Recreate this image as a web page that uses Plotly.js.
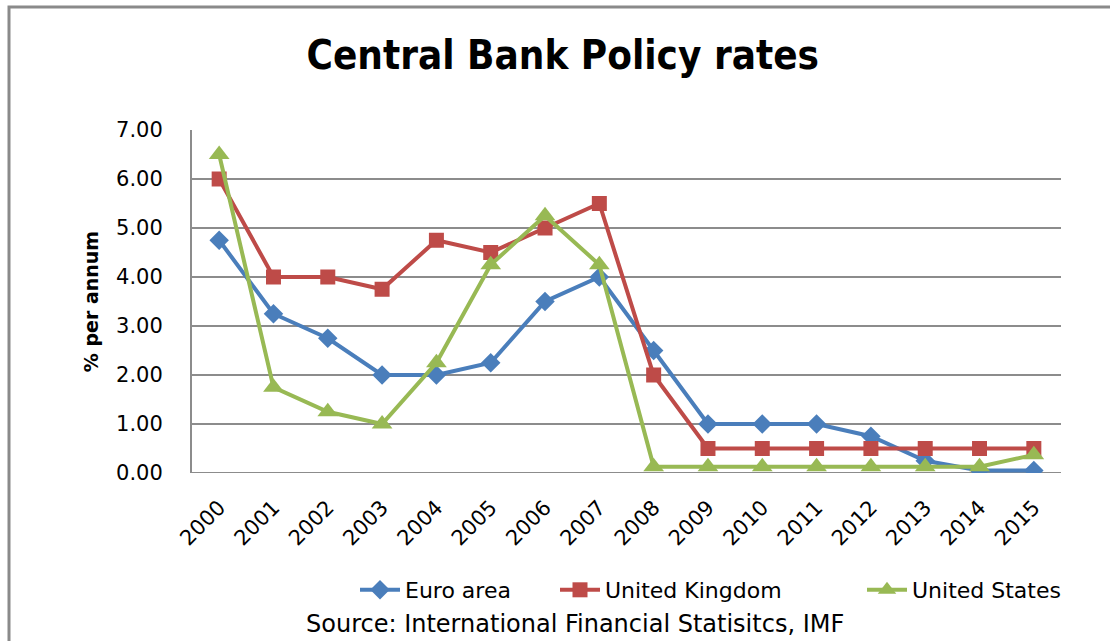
<!DOCTYPE html>
<html>
<head>
<meta charset="utf-8">
<script src="https://cdn.plot.ly/plotly-3.0.1.min.js"></script>
<style>
html,body{margin:0;padding:0;background:#fff;}
#chart{width:1110px;height:641px;}
</style>
</head>
<body>
<div id="chart"></div>
<script>
const years = ["2000","2001","2002","2003","2004","2005","2006","2007","2008","2009","2010","2011","2012","2013","2014","2015"];
const euroArea = [4.75,3.25,2.75,2.00,2.00,2.25,3.50,4.00,2.50,1.00,1.00,1.00,0.75,0.25,0.05,0.05];
const unitedKingdom = [6.00,4.00,4.00,3.75,4.75,4.50,5.00,5.50,2.00,0.50,0.50,0.50,0.50,0.50,0.50,0.50];
const unitedStates = [6.50,1.75,1.25,1.00,2.25,4.25,5.25,4.25,0.13,0.13,0.13,0.13,0.13,0.13,0.13,0.37];
const yTicks = [0,1,2,3,4,5,6,7];
const yTickText = ["0.00","1.00","2.00","3.00","4.00","5.00","6.00","7.00"];

const L = 192, R = 49, T = 130, B = 168;
const W = 1110, H = 641;
const pw = W - L - R, ph = H - T - B;
const px = v => (v - L) / pw;
const py = v => (H - B - v) / ph;

const traces = [
  {x: years, y: euroArea, name: "Euro area", type: "scatter", mode: "lines+markers", legend: "legend",
   line: {color: "#4A7EBB", width: 4}, marker: {symbol: "diamond", size: 15, color: "#4A7EBB"}},
  {x: years, y: unitedKingdom, name: "United Kingdom", type: "scatter", mode: "lines+markers", legend: "legend2",
   line: {color: "#BE4B48", width: 4}, marker: {symbol: "square", size: 15, color: "#BE4B48"}},
  {x: years, y: unitedStates, name: "United States", type: "scatter", mode: "lines+markers", legend: "legend3",
   line: {color: "#98B954", width: 4}, marker: {symbol: "triangle-up", size: 18, color: "#98B954"}}
];

const legendBase = {orientation: "h", xanchor: "left", y: py(590), yanchor: "middle",
  font: {size: 22, family: "DejaVu Sans, sans-serif"}, itemwidth: 40, bgcolor: "rgba(0,0,0,0)"};

const layout = {
  width: W, height: H,
  margin: {l: L, r: R, t: T, b: B, autoexpand: false},
  paper_bgcolor: "#fff", plot_bgcolor: "#fff",
  font: {family: "DejaVu Sans, sans-serif", color: "#000"},
  title: {text: "<b>Central Bank Policy rates</b>", font: {family: "Liberation Sans Narrow, DejaVu Sans Condensed, sans-serif", size: 40, color: "#000"},
          xref: "container", x: 0.507, xanchor: "center", yref: "container", y: 1 - 55/641, yanchor: "middle"},
  xaxis: {type: "category", range: [-0.5, 15.5], showgrid: false, zeroline: false,
          showline: false, ticks: "", tickangle: -45, ticklabelstandoff: 17,
          tickfont: {size: 21, family: "DejaVu Sans, sans-serif"}, fixedrange: true},
  yaxis: {range: [0, 7], tickvals: yTicks, ticktext: yTickText, showgrid: true,
          gridcolor: "#8c8c8c", gridwidth: 2, zeroline: false, showline: true, linecolor: "#8c8c8c", linewidth: 2,
          ticks: "", ticklabelstandoff: 23, tickfont: {size: 21, family: "DejaVu Sans, sans-serif"},
          title: {text: "<b>% per annum</b>", font: {size: 19, family: "DejaVu Sans, sans-serif"}, standoff: 12},
          fixedrange: true},
  showlegend: true,
  legend: Object.assign({}, legendBase, {x: px(405 - 50)}),
  legend2: Object.assign({}, legendBase, {x: px(605 - 50)}),
  legend3: Object.assign({}, legendBase, {x: px(912 - 50)}),
  shapes: [
    {type: "rect", xref: "paper", yref: "paper", x0: px(9), x1: px(1125), y0: py(660), y1: py(7),
     line: {color: "#8a8a8a", width: 3}, fillcolor: "rgba(0,0,0,0)", layer: "below"},
    {type: "line", xref: "paper", yref: "y", x0: 0, x1: 1, y0: 0, y1: 0, line: {color: "#8c8c8c", width: 2}, layer: "below"}
  ],
  annotations: [
    {text: "Source: International Financial Statisitcs, IMF", xref: "paper", yref: "paper",
     x: px(575), y: py(624), xanchor: "center", yanchor: "middle", showarrow: false,
     font: {size: 24, family: "DejaVu Sans, sans-serif", color: "#000"}}
  ]
};

Plotly.newPlot("chart", traces, layout, {displayModeBar: false, staticPlot: true});
</script>
</body>
</html>
